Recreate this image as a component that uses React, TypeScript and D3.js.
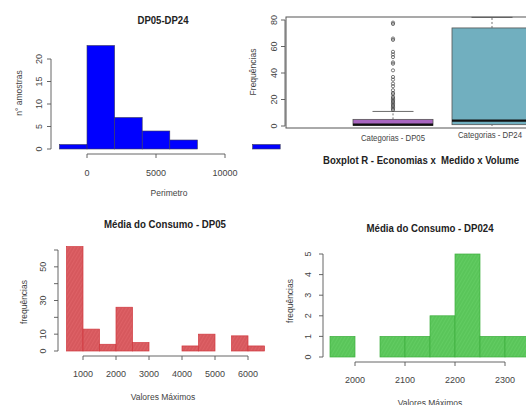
import React from "react";
import * as d3 from "d3";

// Panel 1: histogram DP05-DP24 (Perimetro)
const perimBreaks = [-2000, 0, 2000, 4000, 6000, 8000, 10000, 12000, 14000];
const perimCounts = [1, 23, 7, 4, 2, 0, 0, 1];
const perimXTicks = [0, 5000, 10000];
const perimYTicks = [0, 5, 10, 15, 20];

// Panel 2: boxplot
const boxCategories = ["Categorias - DP05", "Categorias - DP24"];
const boxQ1 = [0.5, 1];
const boxMedian = [1, 4];
const boxQ3 = [5, 74];
const boxWhiskerLo = [0, 0];
const boxWhiskerHi = [11, 82];
const dp05Outliers = [78, 77, 66, 65, 56, 54, 52, 48, 47, 42, 37, 35, 32, 30, 27, 25, 24, 22, 21, 20, 19, 18, 17, 16, 15, 14, 13, 12];
const boxYTicks = [0, 20, 40, 60, 80];

// Panel 3: Média do Consumo - DP05
const dp05Breaks = [500, 1000, 1500, 2000, 2500, 3000, 3500, 4000, 4500, 5000, 5500, 6000, 6500];
const dp05Counts = [62, 13, 4, 26, 5, 0, 0, 3, 10, 0, 9, 3];
const dp05XTicks = [1000, 2000, 3000, 4000, 5000, 6000];
const dp05YTicks = [0, 10, 20, 30, 40, 50, 60];
const dp05YLabels = [0, 10, 30, 50];

// Panel 4: Média do Consumo - DP024
const dp24Breaks = [1950, 2000, 2050, 2100, 2150, 2200, 2250, 2300, 2350];
const dp24Counts = [1, 0, 1, 1, 2, 5, 1, 1];
const dp24XTicks = [2000, 2100, 2200, 2300];
const dp24YTicks = [0, 1, 2, 3, 4, 5];

const FONT = "'Liberation Sans', Arial, Helvetica, sans-serif";
const AX = "#555";
const TXT = "#444";

function Hist({ breaks, counts, x, y, fill, stroke, sw }: any) {
  return (
    <g>
      {counts.map((c: number, i: number) => (
        <rect
          key={i}
          x={x(breaks[i])}
          y={y(c)}
          width={x(breaks[i + 1]) - x(breaks[i])}
          height={Math.max(0, y(0) - y(c))}
          fill={fill}
          stroke={stroke}
          strokeWidth={sw}
        />
      ))}
    </g>
  );
}

function XAxis({ x, ticks, yLine, labelY }: any) {
  const x0 = x(ticks[0]);
  const x1 = x(ticks[ticks.length - 1]);
  return (
    <g>
      <line x1={x0} x2={x1} y1={yLine} y2={yLine} stroke={AX} strokeWidth={0.9} />
      {ticks.map((t: number) => (
        <g key={t}>
          <line x1={x(t)} x2={x(t)} y1={yLine} y2={yLine + 4} stroke={AX} strokeWidth={0.9} />
          <text x={x(t)} y={labelY} textAnchor="middle" fontSize={9} fill={TXT} fontFamily={FONT}>
            {t}
          </text>
        </g>
      ))}
    </g>
  );
}

function YAxis({ y, ticks, labels, xLine, labelX }: any) {
  const y0 = y(ticks[0]);
  const y1 = y(ticks[ticks.length - 1]);
  const shown = labels || ticks;
  return (
    <g>
      <line x1={xLine} x2={xLine} y1={y0} y2={y1} stroke={AX} strokeWidth={0.9} />
      {ticks.map((t: number) => (
        <g key={t}>
          <line x1={xLine - 4} x2={xLine} y1={y(t)} y2={y(t)} stroke={AX} strokeWidth={0.9} />
          {shown.includes(t) && (
            <text
              transform={`translate(${labelX},${y(t)}) rotate(-90)`}
              textAnchor="middle"
              fontSize={9}
              fill={TXT}
              fontFamily={FONT}
            >
              {t}
            </text>
          )}
        </g>
      ))}
    </g>
  );
}

function VLabel({ x, y, text }: any) {
  return (
    <text transform={`translate(${x},${y}) rotate(-90)`} textAnchor="middle" fontSize={8.5} fill={TXT} fontFamily={FONT}>
      {text}
    </text>
  );
}

function Title({ x, y, text, len }: any) {
  return (
    <text x={x} y={y} textAnchor="middle" fontSize={10.5} fontWeight="bold" fill="#222" fontFamily={FONT}
      textLength={len} lengthAdjust="spacingAndGlyphs" style={{ whiteSpace: "pre" }}>
      {text}
    </text>
  );
}

export default function App() {
  // Panel 1 scales
  const x1 = d3.scaleLinear().domain([0, 10000]).range([87, 225]);
  const y1 = d3.scaleLinear().domain([0, 20]).range([149, 59]);

  // Panel 2 scales
  const xb = d3.scaleLinear().domain([1, 2]).range([393, 492]);
  const yb = d3.scaleLinear().domain([0, 80]).range([126, 20]);
  const halfW = 40;
  const capW = 20.5;
  const boxColors = ["#A865C0", "#71AFBF"];
  const labelPos = [
    { x: 393, y: 141 },
    { x: 490, y: 138 },
  ];

  // Panel 3 scales
  const x3 = d3.scaleLinear().domain([1000, 6000]).range([83, 248]);
  const y3 = d3.scaleLinear().domain([0, 60]).range([351, 250]);

  // Panel 4 scales
  const x4 = d3.scaleLinear().domain([2000, 2300]).range([355, 505]);
  const y4 = d3.scaleLinear().domain([0, 5]).range([357, 254]);

  return (
    <svg width={526} height={405} style={{ position: "fixed", left: 0, top: 0, background: "#fff" }}>
      <defs>
        <pattern id="hatchRed" width={3} height={3} patternUnits="userSpaceOnUse" patternTransform="rotate(30)">
          <rect width={3} height={3} fill="#DE6166" />
          <line x1={1} x2={1} y1={0} y2={3} stroke="#CC4A50" strokeWidth={0.8} />
        </pattern>
        <pattern id="hatchGreen" width={3} height={3} patternUnits="userSpaceOnUse" patternTransform="rotate(30)">
          <rect width={3} height={3} fill="#62CC62" />
          <line x1={1} x2={1} y1={0} y2={3} stroke="#4CBB4C" strokeWidth={0.8} />
        </pattern>
      </defs>

      {/* Panel 2: boxplot */}
      <g>
        <rect x={286} y={17} width={260} height={111} fill="none" stroke={AX} strokeWidth={1} />
        <YAxis y={yb} ticks={boxYTicks} xLine={285} labelX={277} />
        <VLabel x={256} y={72} text="Frequências" />
        {boxCategories.map((c, i) => {
          const cx = xb(i + 1);
          return (
            <g key={c}>
              <line x1={cx} x2={cx} y1={yb(boxQ3[i])} y2={yb(boxWhiskerHi[i])} stroke="#333" strokeDasharray="2,2" strokeWidth={0.7} />
              <line x1={cx - capW} x2={cx + capW} y1={yb(boxWhiskerHi[i])} y2={yb(boxWhiskerHi[i])} stroke="#444" strokeWidth={0.8} />
              <line x1={cx} x2={cx} y1={yb(boxQ1[i])} y2={yb(boxWhiskerLo[i])} stroke="#333" strokeDasharray="2,2" strokeWidth={0.7} />
              <rect x={cx - halfW} y={yb(boxQ3[i])} width={halfW * 2} height={yb(boxQ1[i]) - yb(boxQ3[i])}
                fill={boxColors[i]} stroke="#555" strokeWidth={0.8} />
              <line x1={cx - halfW} x2={cx + halfW} y1={yb(boxMedian[i])} y2={yb(boxMedian[i])} stroke="#111" strokeWidth={2.2} />
              <text x={labelPos[i].x} y={labelPos[i].y} textAnchor="middle" fontSize={8.8} fill={TXT} fontFamily={FONT}
                textLength={64} lengthAdjust="spacingAndGlyphs">
                {c}
              </text>
            </g>
          );
        })}
        {dp05Outliers.map((v, i) => (
          <circle key={i} cx={xb(1)} cy={yb(v)} r={1.6} fill="none" stroke="#444" strokeWidth={0.7} />
        ))}
        <Title x={421} y={164} text={"Boxplot R - Economias x  Medido x Volume"} len={196} />
      </g>

      {/* Panel 1: histogram Perimetro */}
      <g>
        <Hist breaks={perimBreaks} counts={perimCounts} x={x1} y={y1} fill="#0000FF" stroke="#3a3a5a" sw={0.6} />
        <XAxis x={x1} ticks={perimXTicks} yLine={154} labelY={176} />
        <YAxis y={y1} ticks={perimYTicks} xLine={51} labelX={42} />
        <VLabel x={22} y={93} text="n° amostras" />
        <text x={169} y={196} textAnchor="middle" fontSize={8.5} fill={TXT} fontFamily={FONT}>Perimetro</text>
        <Title x={163} y={24} text="DP05-DP24" len={51} />
      </g>

      {/* Panel 3 */}
      <g>
        <Hist breaks={dp05Breaks} counts={dp05Counts} x={x3} y={y3} fill="url(#hatchRed)" stroke="#D0383E" sw={0.7} />
        <XAxis x={x3} ticks={dp05XTicks} yLine={356} labelY={377} />
        <YAxis y={y3} ticks={dp05YTicks} labels={dp05YLabels} xLine={58} labelX={46} />
        <VLabel x={27} y={302} text="frequências" />
        <text x={163} y={400} textAnchor="middle" fontSize={8.5} fill={TXT} fontFamily={FONT}>Valores Máximos</text>
        <Title x={165} y={228} text="Média do Consumo - DP05" len={122} />
      </g>

      {/* Panel 4 */}
      <g>
        <Hist breaks={dp24Breaks} counts={dp24Counts} x={x4} y={y4} fill="url(#hatchGreen)" stroke="#3DAE3D" sw={0.7} />
        <XAxis x={x4} ticks={dp24XTicks} yLine={362} labelY={383} />
        <YAxis y={y4} ticks={dp24YTicks} xLine={323} labelX={311} />
        <VLabel x={293} y={301} text="frequências" />
        <text x={430} y={406} textAnchor="middle" fontSize={8.5} fill={TXT} fontFamily={FONT}>Valores Máximos</text>
        <Title x={430} y={232} text="Média do Consumo - DP024" len={127} />
      </g>
    </svg>
  );
}
